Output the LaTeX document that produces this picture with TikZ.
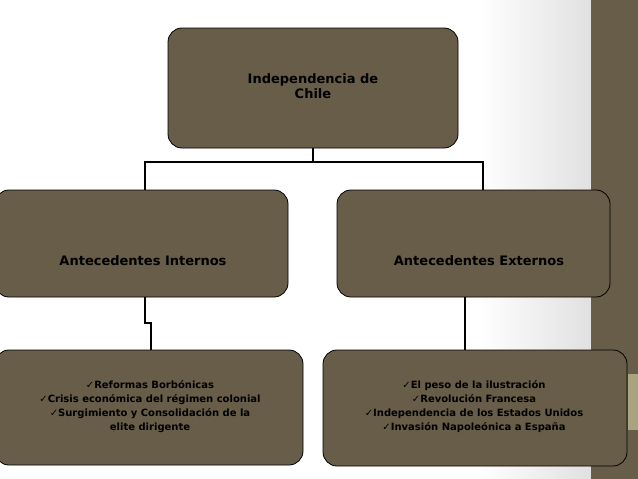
\documentclass[tikz,border=0pt]{standalone}
\usepackage{fontspec}
\setmainfont{DejaVu Sans}
\begin{document}
\begin{tikzpicture}[x=1pt,y=-1pt,
  box/.style={draw=black,line width=0.8pt,fill=boxc,rounded corners=14pt,inner sep=0pt},
  lbl/.style={font=\bfseries\fontsize{13}{15}\selectfont,text=black,align=center},
  sm/.style={font=\bfseries\fontsize{10}{14}\selectfont,text=black,align=center},
  conn/.style={draw=black,line width=1.3pt}]
\definecolor{boxc}{HTML}{675D48}
\definecolor{tanc}{HTML}{A9A37F}
\useasboundingbox (0,0) rectangle (638,479);
\fill[white] (0,0) rectangle (638,479);
\shade[left color=white,right color=black!12] (480,0) rectangle (591,479);
\fill[boxc] (591,0) rectangle (638,479);
\fill[tanc] (628,374) rectangle (638,430);
% boxes
\draw[box] (168,28) rectangle (458,148);
\node[lbl] (top) at (313,86) {Independencia de\\Chile};
\draw[box] (-5,190) rectangle (288,297);
\node[lbl] (li) at (143,261) {Antecedentes Internos};
\draw[box] (337,190) rectangle (610,297);
\node[lbl] (le) at (479,261) {Antecedentes Externos};
\draw[box] (-5,350) rectangle (303,465);
\node[sm] (bl) at (150,407) {✓Reformas Borbónicas\\✓Crisis económica del régimen colonial\\✓Surgimiento y Consolidación de la\\elite dirigente};
\draw[box] (323,350) rectangle (627,466);
\node[sm] (br) at (474,407) {✓El peso de la ilustración\\✓Revolución Francesa\hspace{7em}\\✓Independencia de los Estados Unidos\\✓Invasión Napoleónica a España};
% connectors
\coordinate (t0) at (313,148);
\coordinate (t1) at (313,162);
\coordinate (a) at (145,162);
\coordinate (b) at (483,162);
\draw[conn] (t0) -- (t1);
\draw[conn] (a|-190,190) -- (a) -- (b) -- (b|-190,190);
\coordinate (l0) at (145,297);
\coordinate (l1) at (145,323);
\coordinate (l2) at (151,323);
\coordinate (l3) at (151,350);
\draw[conn] (l0) -- (l1) -- (l2) -- (l3);
\coordinate (r0) at (465,297);
\coordinate (r1) at (465,350);
\draw[conn] (r0) -- (r1);
\end{tikzpicture}
\end{document}
